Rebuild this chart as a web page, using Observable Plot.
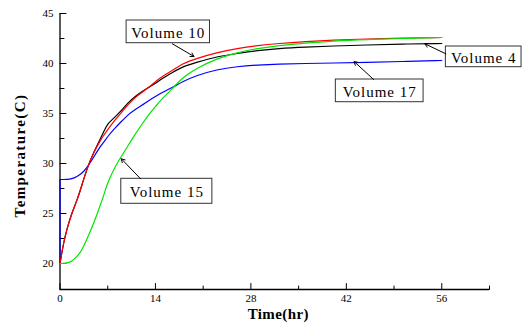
<!DOCTYPE html>
<html><head><meta charset="utf-8">
<script src="https://cdn.jsdelivr.net/npm/d3@7"></script>
<script src="https://cdn.jsdelivr.net/npm/@observablehq/plot@0.6"></script>
<style>body{margin:0;background:#fff} #chart svg{display:block}</style>
</head><body><div id="chart"></div>
<script>
// Time (hr)
const time = [0, 0.5, 1, 1.7, 2.5, 3.2, 4, 5, 6, 6.5, 7, 8, 9, 10, 11, 12, 13, 14, 15, 16.5, 18, 20, 23, 26, 29, 32, 36, 40, 45, 50, 56];
// Temperature (C)
const volume10 = [20, 22.0, 23.4, 25.0, 26.3, 27.8, 29.6, 31.2, 32.4, 32.9, 33.4, 34.3, 35.1, 35.9, 36.6, 37.1, 37.6, 38.2, 38.7, 39.3, 40.0, 40.5, 41.1, 41.5, 41.8, 42.0, 42.2, 42.35, 42.45, 42.55, 42.6];
const volume4 = [20, 22.0, 23.4, 25.0, 26.3, 27.8, 29.6, 31.2, 32.6, 33.3, 34.0, 34.6, 35.3, 36.1, 36.7, 37.2, 37.6, 38.0, 38.5, 39.1, 39.7, 40.1, 40.7, 41.0, 41.3, 41.5, 41.65, 41.75, 41.85, 41.95, 42.0];
const volume15 = [20, 20.0, 20.05, 20.2, 20.7, 21.3, 22.5, 24.1, 26.0, 27.0, 28.1, 29.6, 30.7, 31.8, 32.9, 33.9, 34.9, 35.7, 36.5, 37.5, 38.6, 39.5, 40.5, 41.1, 41.5, 41.8, 42.05, 42.25, 42.4, 42.5, 42.6];
const volume17 = [28.4, 28.4, 28.4, 28.45, 28.7, 29.0, 29.6, 30.7, 31.8, 32.2, 32.7, 33.5, 34.2, 34.9, 35.4, 35.8, 36.3, 36.7, 37.1, 37.6, 38.2, 38.8, 39.4, 39.7, 39.85, 39.95, 40.0, 40.05, 40.1, 40.2, 40.3];
const volume17Start = [20, 28.4];

const seriesNames = ["Volume 4", "Volume 17", "Volume 10", "Volume 15"];
const seriesValues = [volume4, volume17, volume10, volume15];
const seriesColors = ["#000000", "#0000ff", "#ff0000", "#00e600"];

const xMajorTicks = [0, 14, 28, 42, 56];
const xMinorTicks = [7, 21, 35, 49, 63];
const yMajorTicks = [20, 25, 30, 35, 40, 45];
const yMinorTicks = [22.5, 27.5, 32.5, 37.5, 42.5];

// annotation boxes and arrows (data units)
const annotations = [
  {label: "Volume 10", bx1: 9.77, bx2: 22.0, by1: 42.03, by2: 44.3, ax1: 16.48, ay1: 41.97, ax2: 19.65, ay2: 40.7},
  {label: "Volume 4", bx1: 56.6, bx2: 67.7, by1: 39.63, by2: 41.7, ax1: 56.6, ay1: 40.97, ax2: 53.52, ay2: 41.97},
  {label: "Volume 17", bx1: 40.46, bx2: 53.33, by1: 36.13, by2: 38.4, ax1: 46.0, ay1: 38.4, ax2: 43.14, ay2: 40.2},
  {label: "Volume 15", bx1: 8.99, bx2: 22.35, by1: 25.97, by2: 28.47, ax1: 11.82, ay1: 28.47, ax2: 8.99, ay2: 30.47}
];

const rows = [];
seriesNames.forEach((name, i) => {
  time.forEach((t, j) => rows.push({series: name, t, temp: seriesValues[i][j]}));
});

const yMin = 17.4;
const serif = "'Liberation Serif', 'Times New Roman', serif";
const tickShape = {draw(context, l) { context.moveTo(0, 0); context.lineTo(0, -l); }};

const chart = Plot.plot({
  width: 525,
  height: 334,
  marginLeft: 59.5,
  marginRight: 36,
  marginTop: 13,
  marginBottom: 45,
  style: {fontFamily: serif, fontSize: "11px", background: "white", color: "black"},
  x: {domain: [0, 63]},
  y: {domain: [yMin, 45]},
  color: {domain: seriesNames, range: seriesColors},
  marks: [
    Plot.axisX({ticks: xMajorTicks, tickSize: 0, tickPadding: 5, label: null, fontSize: 11}),
    Plot.axisY({ticks: yMajorTicks, tickSize: 0, tickPadding: 6.5, label: null, fontSize: 11}),
    Plot.vector(xMajorTicks, {x: d => d, y: yMin, length: 6, rotate: 0, anchor: "start", shape: tickShape, stroke: "black", strokeWidth: 1}),
    Plot.vector(xMinorTicks, {x: d => d, y: yMin, length: 3.5, rotate: 0, anchor: "start", shape: tickShape, stroke: "black", strokeWidth: 1}),
    Plot.vector(yMajorTicks, {y: d => d, x: 0, length: 6, rotate: 90, anchor: "start", shape: tickShape, stroke: "black", strokeWidth: 1}),
    Plot.vector(yMinorTicks, {y: d => d, x: 0, length: 4, rotate: 90, anchor: "start", shape: tickShape, stroke: "black", strokeWidth: 1}),
    Plot.ruleX([0], {stroke: "black", strokeWidth: 1.3}),
    Plot.ruleY([yMin], {stroke: "black", strokeWidth: 1.3}),
    Plot.line(volume17Start, {x: () => 0, y: d => d, stroke: "#0000ff", strokeWidth: 1.2}),
    Plot.line(rows, {x: "t", y: "temp", z: "series", stroke: "series", strokeWidth: 1.2, curve: "basis"}),
    Plot.rect(annotations, {x1: "bx1", x2: "bx2", y1: "by1", y2: "by2", fill: "white", stroke: "#333", strokeWidth: 1}),
    Plot.text(annotations, {x: d => (d.bx1 + d.bx2) / 2, y: d => (d.by1 + d.by2) / 2, text: "label", fontSize: 15, fontFamily: serif, fill: "black", dy: 1}),
    Plot.arrow(annotations, {x1: "ax1", y1: "ay1", x2: "ax2", y2: "ay2", stroke: "black", strokeWidth: 1, headLength: 6}),
    Plot.text(["Time(hr)"], {frameAnchor: "bottom", lineAnchor: "middle", textAnchor: "middle", dx: 3.5, dy: 24.5, fontSize: 15, fontWeight: "bold", fontFamily: serif, fill: "black", text: d => d}),
    Plot.text(["Temperature(C)"], {frameAnchor: "left", lineAnchor: "middle", textAnchor: "middle", rotate: -90, dx: -39.5, dy: 4, fontSize: 15, fontWeight: "bold", fontFamily: serif, fill: "black", text: d => d})
  ]
});
// letter spacing like the reference's typesetting
d3.select(chart).selectAll("text").each(function() {
  const s = this.textContent;
  if (/^Volume/.test(s)) this.style.letterSpacing = "1px";
  else if (s === "Temperature(C)") this.style.letterSpacing = "1.4px";
  else if (s === "Time(hr)") this.style.letterSpacing = "0.4px";
});
document.getElementById("chart").append(chart);
</script>
</body></html>
